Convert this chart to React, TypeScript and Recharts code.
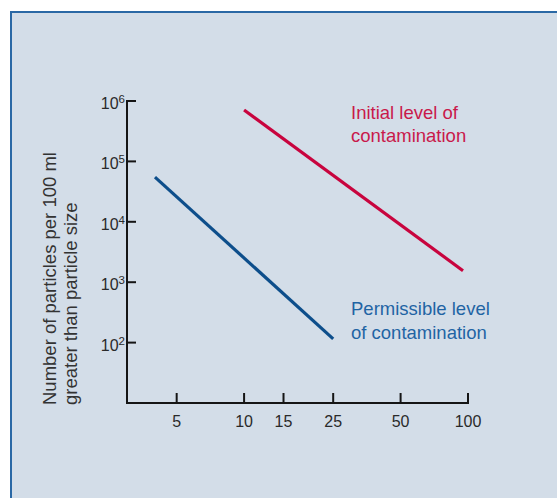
import { LineChart, Line, XAxis, YAxis } from 'recharts'

// particle size (µm) vs number of particles per 100 ml
const initialSize = [10, 95]
const initialCount = [710000, 1550]
const permissibleSize = [4, 25]
const permissibleCount = [55000, 115]

const xTicks = [5, 10, 15, 25, 50, 100]
const yTicks = [100, 1000, 10000, 100000, 1000000]

const initialData = initialSize.map((size, i) => ({ size, count: initialCount[i] }))
const permissibleData = permissibleSize.map((size, i) => ({ size, count: permissibleCount[i] }))

const FONT = '"Liberation Sans", Arial, Helvetica, sans-serif'
const AXIS = '#151515'

function XTick(props: any) {
	const { x, y, payload } = props
	return (
		<g>
			<line x1={x} y1={y} x2={x} y2={y - 10} stroke={AXIS} strokeWidth={2} />
			<text x={x} y={y + 24} textAnchor="middle" fontSize={16} fill="#2a2a2a" fontFamily={FONT}>
				{payload.value}
			</text>
		</g>
	)
}

function YTick(props: any) {
	const { x, y, payload } = props
	const exp = Math.round(Math.log10(payload.value))
	return (
		<g>
			<line x1={x} y1={y} x2={x + 9} y2={y} stroke={AXIS} strokeWidth={2} />
			<text x={x - 2} y={y + 8} textAnchor="end" fontSize={16} fill="#2a2a2a" fontFamily={FONT}>
				10
				<tspan dy={-6} fontSize={11.5}>{exp}</tspan>
			</text>
		</g>
	)
}

export default function App() {
	return (
		<div style={{ position: 'fixed', left: 0, top: 0, width: 557, height: 498, background: '#fff', overflow: 'hidden' }}>
			<div
				style={{
					position: 'absolute', left: 10, top: 11, right: -20, bottom: -20,
					borderTop: '2px solid #2a68a5', borderLeft: '2px solid #2a68a5', background: '#d3dde8',
				}}
			/>
			<div style={{ position: 'absolute', left: 0, top: 0 }}>
				<LineChart width={557} height={498} margin={{ top: 101, right: 89, bottom: 0, left: 0 }}>
					<XAxis
						dataKey="size" type="number" scale="log" domain={[3, 100]} ticks={xTicks}
						allowDataOverflow height={95} tickSize={0} tickMargin={0} tickLine={false}
						axisLine={{ stroke: AXIS, strokeWidth: 2, strokeLinecap: 'square' }}
						tick={(p: any) => <XTick {...p} />} interval={0}
					/>
					<YAxis
						dataKey="count" type="number" scale="log" domain={[10, 1000000]} ticks={yTicks}
						allowDataOverflow width={127} tickSize={0} tickMargin={0} tickLine={false}
						axisLine={{ stroke: AXIS, strokeWidth: 2, strokeLinecap: 'square' }}
						tick={(p: any) => <YTick {...p} />} interval={0}
					/>
					<Line data={initialData} dataKey="count" stroke="#c8043e" strokeWidth={3.2} dot={false} isAnimationActive={false} />
					<Line data={permissibleData} dataKey="count" stroke="#0d4e8b" strokeWidth={3.2} dot={false} isAnimationActive={false} />
				</LineChart>
			</div>
			<svg width={557} height={498} style={{ position: 'absolute', left: 0, top: 0, pointerEvents: 'none' }} fontFamily={FONT} fontSize={18.5}>
				<text transform="translate(56,405) rotate(-90)" fill="#333">Number of particles per 100 ml</text>
				<text transform="translate(77,405) rotate(-90)" fill="#333">greater than particle size</text>
				<text x={351} y={118.5} fill="#c9194b">Initial level of</text>
				<text x={351} y={141.5} fill="#c9194b">contamination</text>
				<text x={351} y={315} fill="#1f64a4">Permissible level</text>
				<text x={351} y={338.5} fill="#1f64a4">of contamination</text>
			</svg>
		</div>
	)
}
